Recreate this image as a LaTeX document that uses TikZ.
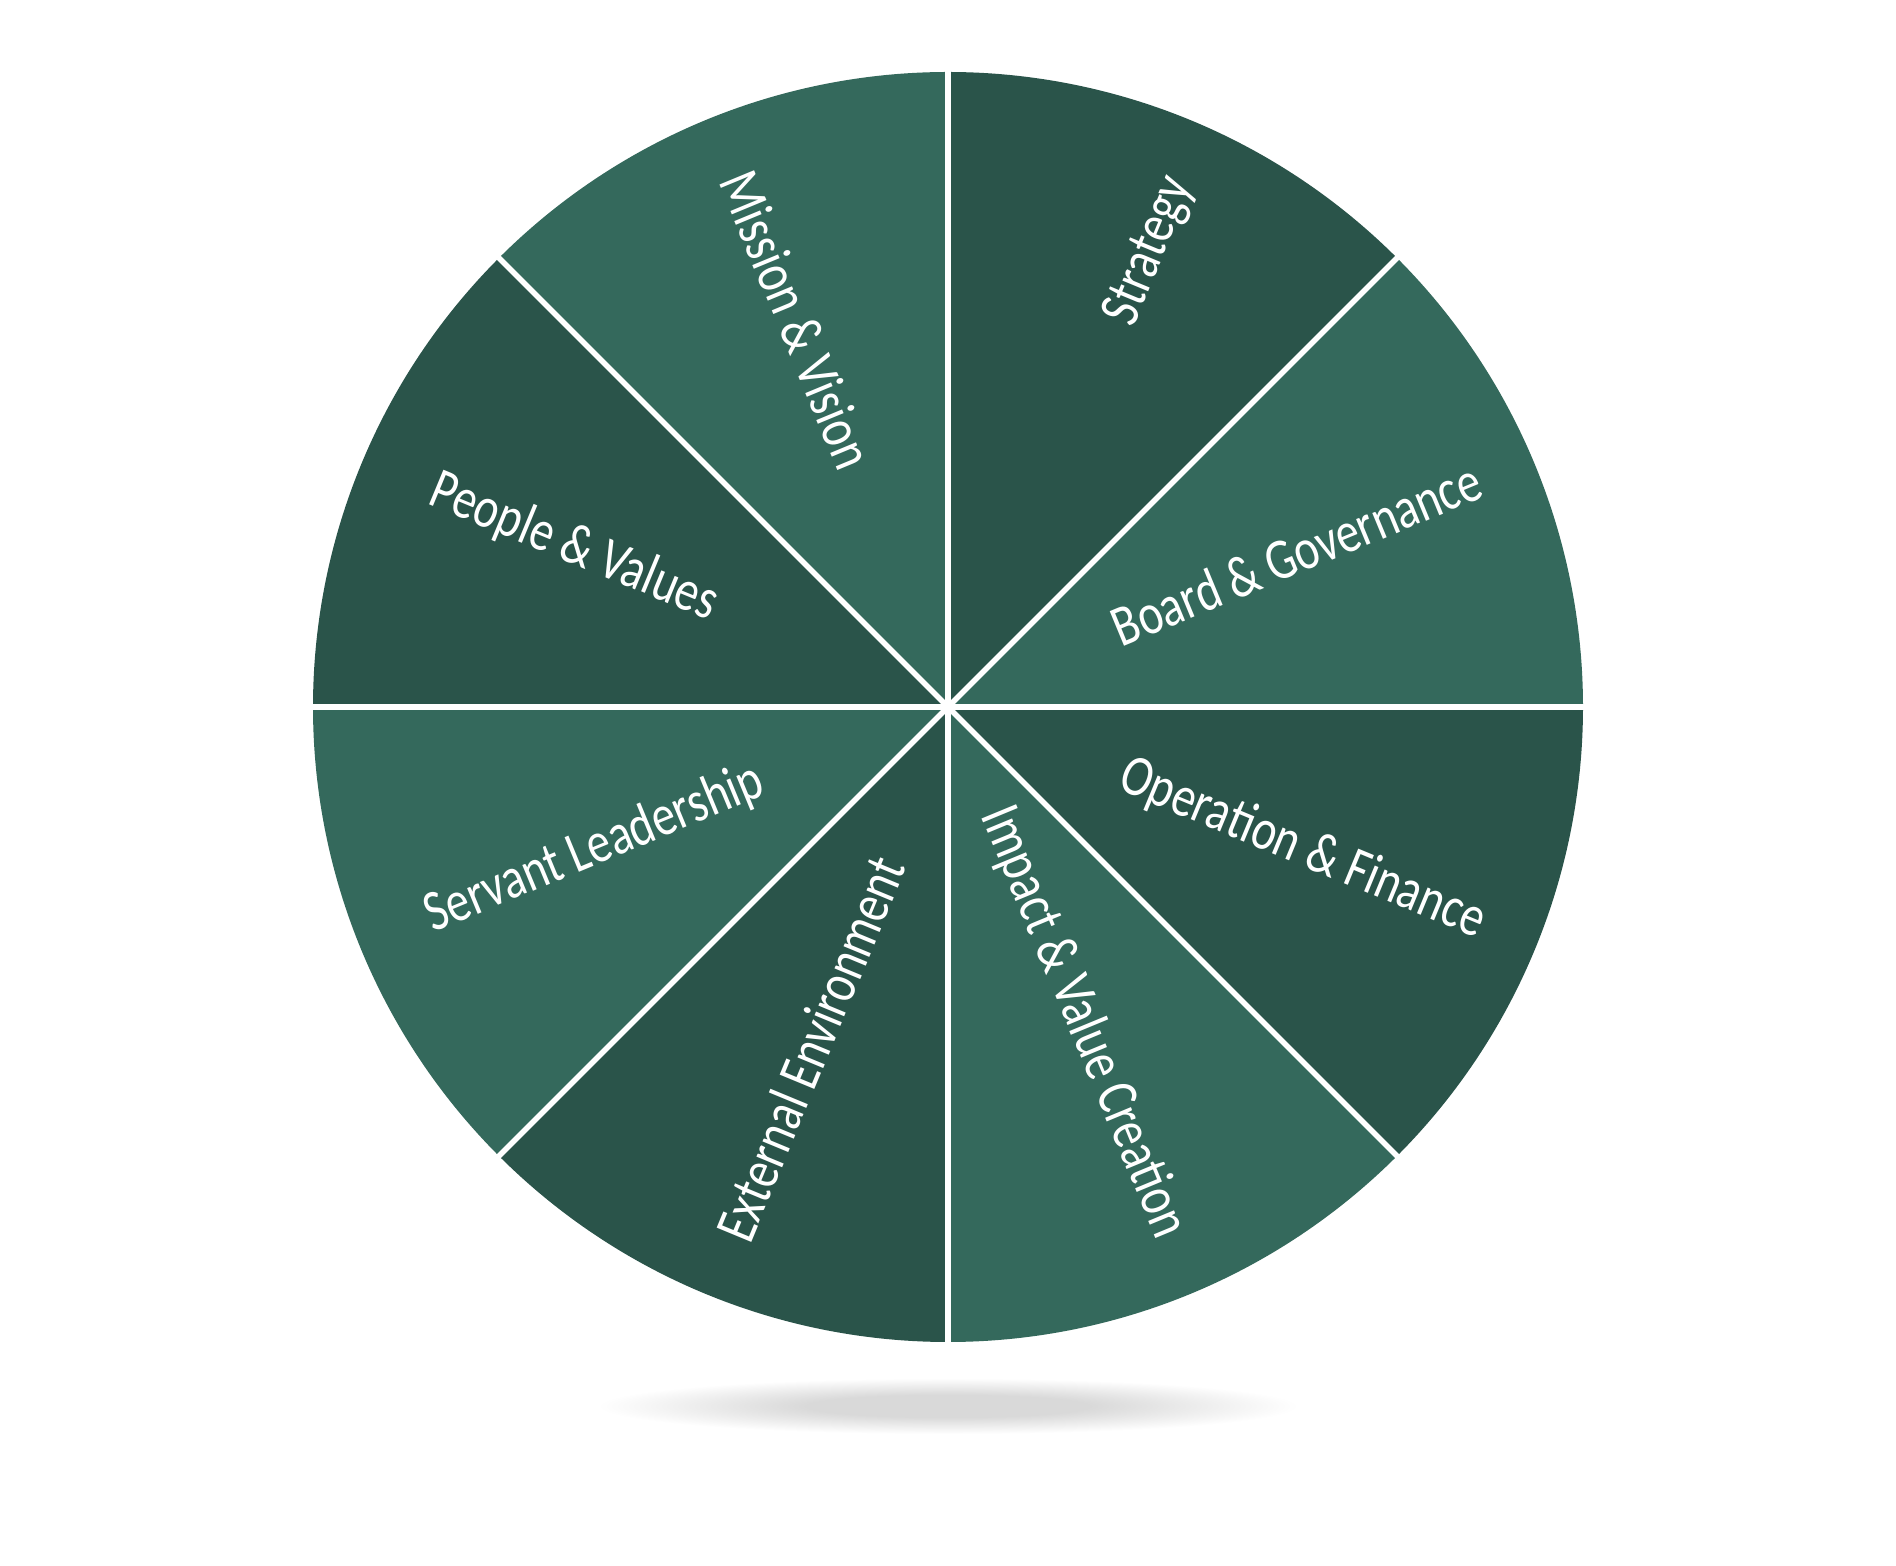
\documentclass[tikz,border=0pt]{standalone}
\usepackage{fontspec}
\setmainfont[FakeStretch=0.8]{Carlito}
\definecolor{segLight}{RGB}{52,105,92}
\definecolor{segDark}{RGB}{42,84,74}
\pgfdeclareradialshading{shadowfade}{\pgfpoint{0bp}{0bp}}{color(0bp)=(black!15); color(10bp)=(black!15); color(25bp)=(white); color(50bp)=(white)}
\tikzset{
  lbl/.style={text=white, inner sep=0pt, text height=0.644em, text depth=0pt, font=\fontsize{16.6pt}{19pt}\selectfont},
  sep/.style={draw=white, line width=5.5*0.01cm},
}
\begin{document}
\begin{tikzpicture}[x=0.01cm,y=0.01cm]
\useasboundingbox (0,0) rectangle (1896,1566);
\fill[white] (0,0) rectangle (1896,1566);
% shadow
\shade[shading=shadowfade] (948,160) ellipse (350 and 28);
\coordinate (c) at (948,859);
% sectors
\foreach \a/\col in {45/segDark, 0/segLight, -45/segDark, -90/segLight, -135/segDark, 180/segLight, 135/segDark, 90/segLight}{
  \fill[\col] (c) -- ++(\a:635) arc[start angle=\a, end angle=\a+45, radius=635] -- cycle;
}
% separators
\foreach \a in {0,45,90,135}{
  \coordinate (p\a) at ([shift={(\a:636)}]c);
  \coordinate (q\a) at ([shift={(\a+180:636)}]c);
  \draw[sep] (p\a) -- (q\a);
}
% labels
\node[lbl, anchor=east, rotate=67.5] (strategy) at ([shift={(234.7,527.4)}]c) {Strategy};
\node[lbl, anchor=east, rotate=22.5] (board) at ([shift={(22.5:578)}]c) {Board \& Governance};
\node[lbl, anchor=east, rotate=-22.5] (operation) at ([shift={(-22.5:578)}]c) {Operation \& Finance};
\node[lbl, anchor=east, rotate=-67.5] (impact) at ([shift={(-67.5:574)}]c) {Impact \& Value Creation};
\node[lbl, anchor=west, rotate=67.5] (external) at ([shift={(-208.6,-534.9)}]c) {External Environment};
\node[lbl, anchor=west, rotate=22.5] (servant) at ([shift={(-157.5:562)}]c) {Servant Leadership};
\node[lbl, anchor=west, rotate=-22.5] (people) at ([shift={(157.5:560)}]c) {People \& Values};
\node[lbl, anchor=west, rotate=-67.5] (mission) at ([shift={(112.5:574)}]c) {Mission \& Vision};
\end{tikzpicture}
\end{document}
